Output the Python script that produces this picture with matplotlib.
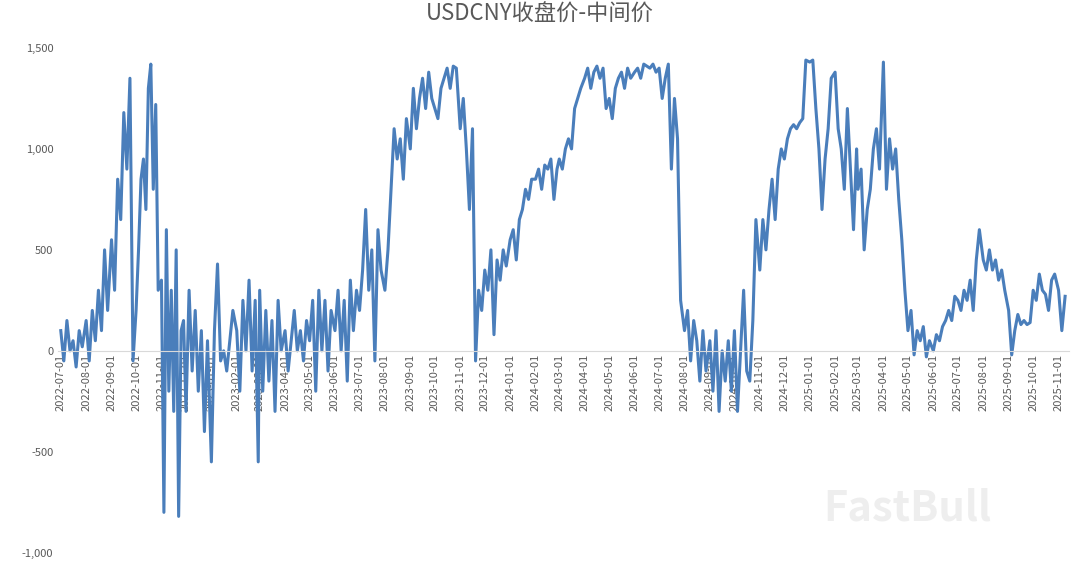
import matplotlib.pyplot as plt
import matplotlib.dates as mdates
import matplotlib.ticker as mticker
import pandas as pd

plt.rcParams['font.family'] = ['Noto Sans CJK SC', 'DejaVu Sans']

# month start -> readings within that month
months = pd.date_range("2022-07-01", "2025-11-01", freq="MS")
monthly_values = [
    [100, -50, 150, 0, 50, -80, 100, 20],
    [150, -50, 200, 50, 300, 100, 500, 200],
    [550, 300, 850, 650, 1180, 900, 1350, -50],
    [200, 500, 850, 950, 700, 1300, 1420, 800, 1220, 300],
    [350, -800, 600, -200, 300, -300, 500, -820, 100, 150],
    [-300, 300, -100, 200, -200, 100, -400, 50],
    [-550, 100, 430, -50, 0, -100, 50, 200],
    [100, -200, 250, 0, 350, -100, 250, -550],
    [300, -200, 200, -150, 150, -300, 250, 0],
    [100, -100, 50, 200, 0, 100, -50, 150],
    [50, 250, -200, 300, 0, 250, -100, 200],
    [100, 300, 0, 250, -150, 350, 100, 300],
    [200, 400, 700, 300, 500, -50, 600, 400],
    [300, 500, 800, 1100, 950, 1050, 850, 1150],
    [1000, 1300, 1100, 1250, 1350, 1200, 1380, 1250],
    [1200, 1150, 1300, 1350, 1400, 1300, 1410, 1400],
    [1100, 1250, 1000, 700, 1100, -50, 300, 200],
    [400, 300, 500, 80, 450, 350, 500, 420],
    [550, 600, 450, 650, 700, 800, 750, 850],
    [850, 900, 800, 920, 900, 950, 750, 900],
    [950, 900, 1000, 1050, 1000, 1200, 1250, 1300],
    [1350, 1400, 1300, 1380, 1410, 1350, 1400, 1200],
    [1250, 1150, 1300, 1350, 1380, 1300, 1400, 1350],
    [1380, 1400, 1350, 1420, 1410, 1400, 1420, 1380],
    [1400, 1250, 1350, 1420, 900, 1250, 1050, 250],
    [100, 200, -50, 150, 50, -150, 100, -100],
    [50, -200, 100, -300, 0, -150, 50, -200],
    [100, -300, 0, 300, -100, -150, 150, 650],
    [400, 650, 500, 700, 850, 650, 900, 1000],
    [950, 1050, 1100, 1120, 1100, 1130, 1150, 1440],
    [1430, 1440, 1200, 1000, 700, 950, 1100, 1350],
    [1380, 1100, 1000, 800, 1200, 900, 600, 1000],
    [800, 900, 500, 700, 800, 1000, 1100, 900],
    [1430, 800, 1050, 900, 1000, 750, 550, 300],
    [100, 200, -20, 100, 50, 120, -30, 50],
    [0, 80, 50, 120, 150, 200, 150, 270],
    [250, 200, 300, 250, 350, 200, 450, 600],
    [450, 400, 500, 400, 450, 350, 400, 300],
    [200, -20, 100, 180, 130, 150, 130, 140],
    [300, 250, 380, 300, 280, 200, 350, 380],
    [300, 100, 270],
]

dates, values = [], []
for m, vals in zip(months, monthly_values):
    days = 30 if m != months[-1] else 12
    for i, v in enumerate(vals):
        dates.append(m + pd.Timedelta(days=days * i / len(vals)))
        values.append(v)

fig = plt.figure(figsize=(10.8, 5.71), dpi=100)
ax = fig.add_axes([0.054, 0.032, 0.936, 0.884])
ax.plot(dates, values, color="#4a7ebb", lw=2.2)

ax.set_ylim(-1000, 1500)
ax.set_xlim(pd.Timestamp("2022-06-28"), pd.Timestamp("2025-11-14"))
ax.yaxis.set_major_locator(mticker.MultipleLocator(500))
ax.yaxis.set_major_formatter(mticker.FuncFormatter(lambda v, p: f"{v:,.0f}"))
ax.xaxis.set_major_locator(mdates.MonthLocator())
ax.xaxis.set_major_formatter(mdates.DateFormatter("%Y-%m-%d"))
ax.tick_params(axis="x", rotation=90, labelsize=8, colors="#595959", length=0, pad=2)
ax.tick_params(axis="y", labelsize=8, colors="#595959", length=0)
for lab in ax.get_xticklabels():
    lab.set_verticalalignment("top")
for s in ["top", "right", "left"]:
    ax.spines[s].set_visible(False)
ax.spines["bottom"].set_position(("data", 0))
ax.spines["bottom"].set_color("#d9d9d9")

fig.suptitle("USDCNY收盘价-中间价", fontsize=16, color="#595959", y=0.995)
fig.text(0.84, 0.11, "FastBull", fontsize=30, color="#eeeeee", fontweight="bold",
         ha="center", va="center", zorder=0)
fig.savefig("out.png")
